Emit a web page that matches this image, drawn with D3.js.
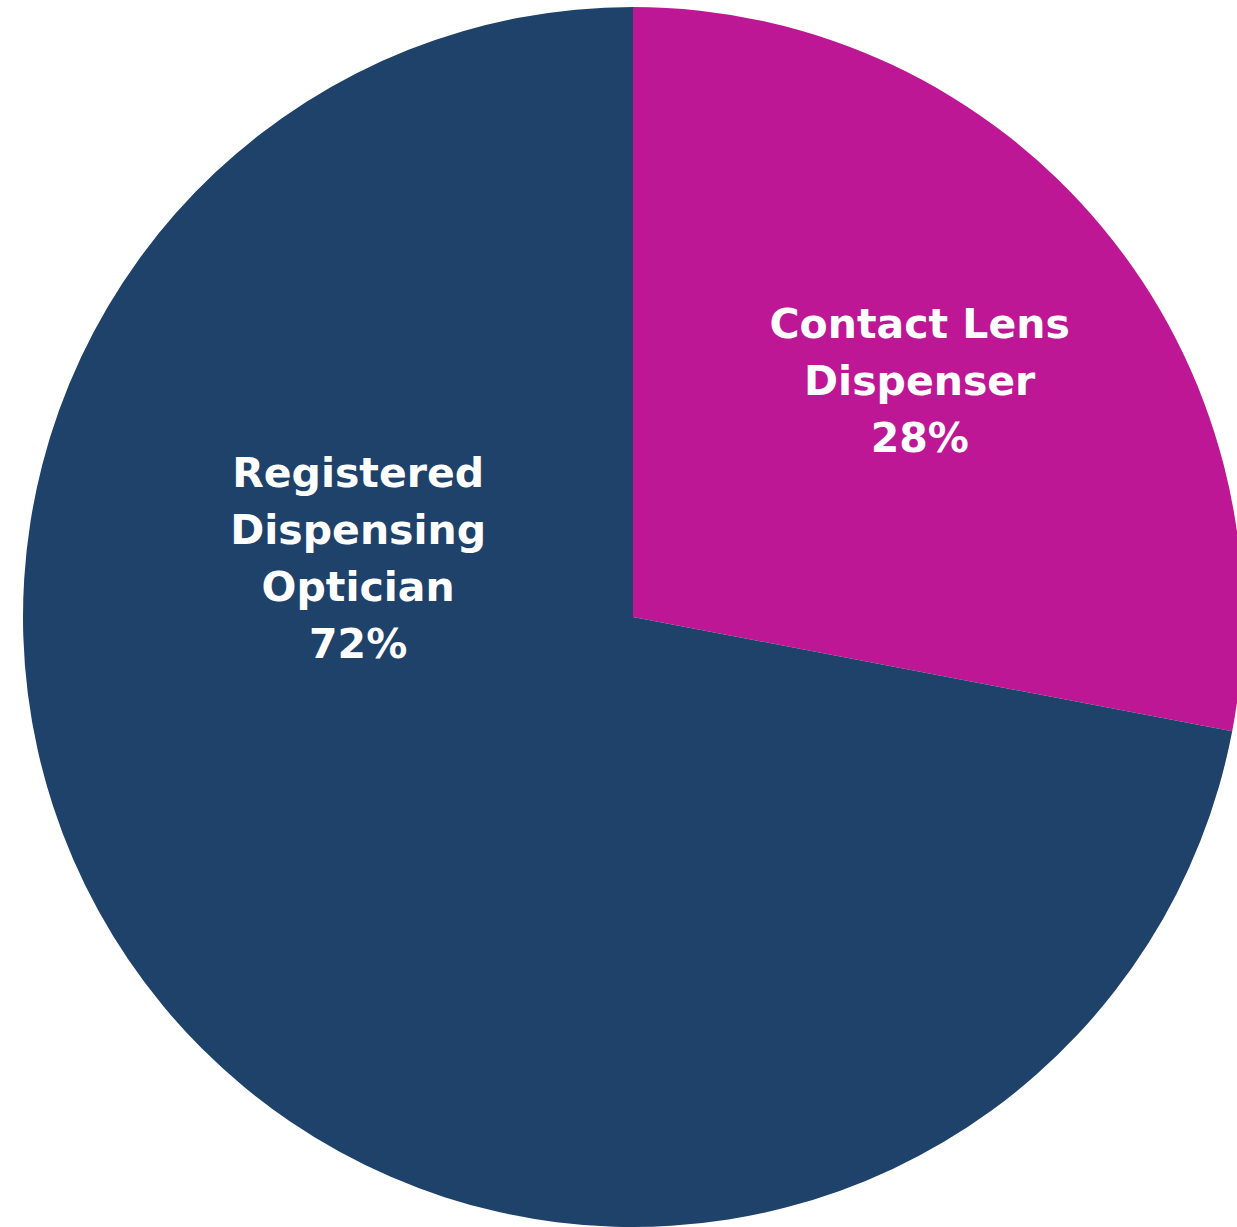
<!DOCTYPE html>
<html><head><meta charset="utf-8">
<script src="https://cdn.jsdelivr.net/npm/d3@7"></script>
<style>html,body{margin:0;padding:0;background:#fff;}svg{display:block;}</style>
</head><body>
<svg id="c" width="1237" height="1227"></svg>
<script>
const categories = ["Contact Lens Dispenser", "Registered Dispensing Optician"];
const values = [28, 72];
const labelLines = [["Contact Lens", "Dispenser", "28%"], ["Registered", "Dispensing", "Optician", "72%"]];
const colors = ["#BE1796", "#1F426B"];

const svg = d3.select("#c");
const cx = 633, cy = 617, r = 610;
const g = svg.append("g").attr("transform", `translate(${cx},${cy})`);
const pie = d3.pie().sort(null).value(d => d)(values);
const arc = d3.arc().innerRadius(0).outerRadius(r);
g.selectAll("path").data(pie).join("path")
  .attr("d", arc).attr("fill", (d, i) => colors[i]);

// label placement (polar, relative to radius); null angle = slice mid-angle
const placement = [{ angle: null, rf: 0.61 }, { angle: 282.2, rf: 0.461 }];
const lh = 57;
pie.forEach((d, i) => {
  const p = placement[i];
  const a = p.angle === null ? (d.startAngle + d.endAngle) / 2 : p.angle * Math.PI / 180;
  const x = Math.sin(a) * r * p.rf, y = -Math.cos(a) * r * p.rf;
  const lines = labelLines[i];
  const t = g.append("text").attr("text-anchor", "middle")
    .attr("font-family", "'DejaVu Sans', sans-serif").attr("font-weight", "bold")
    .attr("font-size", 41).attr("fill", "#fff");
  lines.forEach((s, k) => {
    t.append("tspan").attr("x", x).attr("y", y + (k - (lines.length - 1) / 2) * lh + 15).text(s);
  });
});
</script>
</body></html>
